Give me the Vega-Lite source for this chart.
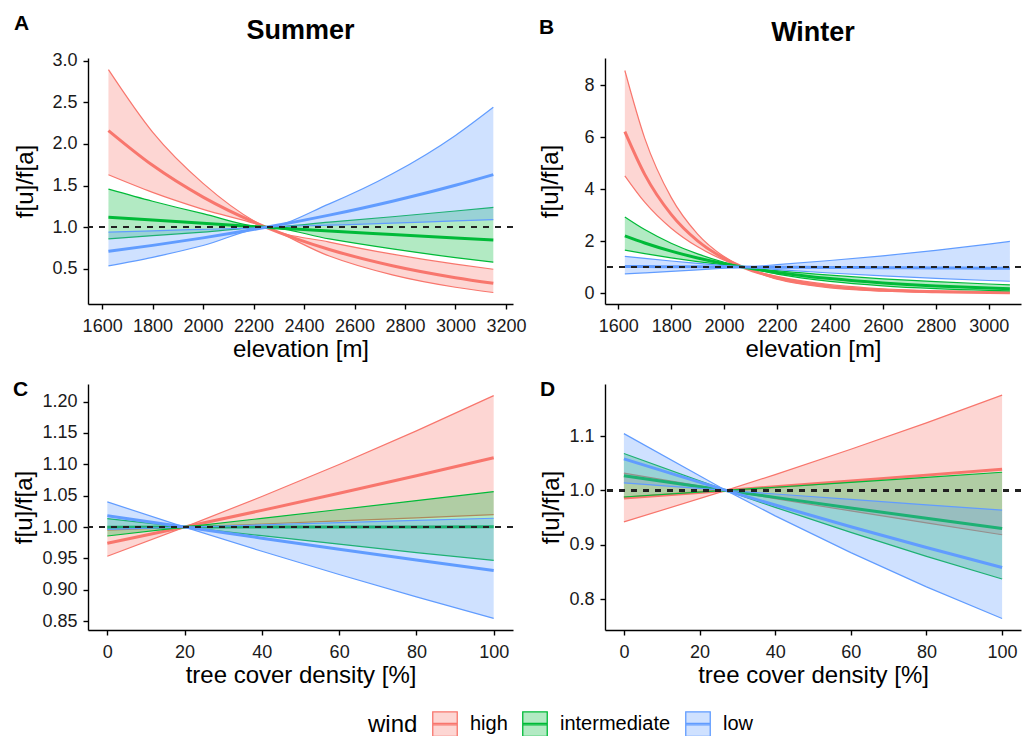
{
"$schema":"https://vega.github.io/schema/vega-lite/v6.json",
"padding":{"left":12,"top":12,"right":0,"bottom":0},
"config":{
"font":"Liberation Sans",
"view":{"stroke":null},
"axis":{"grid":false,"domainColor":"black","domainWidth":1.4,"tickColor":"black","tickWidth":1.4,"tickSize":5,"tickCount":20,"labelFontSize":18,"labelColor":"#1a1a1a","labelPadding":6,"labelOverlap":false,"titleFontSize":24,"titleFontWeight":"normal","titleColor":"black","labelFont":"Liberation Sans","titleFont":"Liberation Sans"},
"axisX":{"titlePadding":2,"labelPadding":8},
"legend":{"titleOrient":"left","titleFontSize":24,"titleFontWeight":"normal","titleColor":"black","labelFontSize":20,"labelColor":"black","symbolType":"M-1,-1H1V1H-1Z M-1,-0.06H1V0.06H-1Z","symbolSize":600,"symbolStrokeWidth":1.3,"labelOffset":12,"columnPadding":12,"titlePadding":14,"labelFont":"Liberation Sans","titleFont":"Liberation Sans"},
"title":{"font":"Liberation Sans","color":"black"}
},
"datasets":{
"A":[
{"wind":"high","x":1625,"lo":1.63,"mid":2.16,"hi":2.89},
{"wind":"high","x":1800,"lo":1.419,"mid":1.743,"hi":2.141},
{"wind":"high","x":2000,"lo":1.215,"mid":1.362,"hi":1.527},
{"wind":"high","x":2250,"lo":1,"mid":1,"hi":1},
{"wind":"high","x":2500,"lo":0.655,"mid":0.734,"hi":0.823},
{"wind":"high","x":2750,"lo":0.429,"mid":0.539,"hi":0.678},
{"wind":"high","x":3000,"lo":0.281,"mid":0.396,"hi":0.558},
{"wind":"high","x":3150,"lo":0.218,"mid":0.329,"hi":0.497},
{"wind":"intermediate","x":1625,"lo":0.862,"mid":1.121,"hi":1.458},
{"wind":"intermediate","x":1800,"lo":0.899,"mid":1.086,"hi":1.312},
{"wind":"intermediate","x":2000,"lo":0.942,"mid":1.047,"hi":1.163},
{"wind":"intermediate","x":2250,"lo":1,"mid":1,"hi":1},
{"wind":"intermediate","x":2500,"lo":0.86,"mid":0.955,"hi":1.061},
{"wind":"intermediate","x":2750,"lo":0.74,"mid":0.913,"hi":1.126},
{"wind":"intermediate","x":3000,"lo":0.636,"mid":0.872,"hi":1.195},
{"wind":"intermediate","x":3150,"lo":0.581,"mid":0.848,"hi":1.238},
{"wind":"low","x":1625,"lo":0.538,"mid":0.712,"hi":0.941},
{"wind":"low","x":1800,"lo":0.64,"mid":0.783,"hi":0.957},
{"wind":"low","x":2000,"lo":0.781,"mid":0.873,"hi":0.976},
{"wind":"low","x":2250,"lo":1,"mid":1,"hi":1},
{"wind":"low","x":2500,"lo":1.025,"mid":1.146,"hi":1.281},
{"wind":"low","x":2750,"lo":1.05,"mid":1.313,"hi":1.641},
{"wind":"low","x":3000,"lo":1.076,"mid":1.504,"hi":2.102},
{"wind":"low","x":3150,"lo":1.091,"mid":1.632,"hi":2.44}
],
"B":[
{"wind":"high","x":1625,"lo":4.51,"mid":6.21,"hi":8.56},
{"wind":"high","x":1700,"lo":3.497,"mid":4.566,"hi":5.96},
{"wind":"high","x":1800,"lo":2.494,"mid":3.028,"hi":3.68},
{"wind":"high","x":1900,"lo":1.778,"mid":2.009,"hi":2.27},
{"wind":"high","x":2000,"lo":1.267,"mid":1.333,"hi":1.402},
{"wind":"high","x":2070,"lo":1,"mid":1,"hi":1},
{"wind":"high","x":2200,"lo":0.534,"mid":0.587,"hi":0.644},
{"wind":"high","x":2400,"lo":0.2035,"mid":0.258,"hi":0.327},
{"wind":"high","x":2600,"lo":0.0776,"mid":0.1136,"hi":0.166},
{"wind":"high","x":2800,"lo":0.0296,"mid":0.05,"hi":0.0846},
{"wind":"high","x":3000,"lo":0.0113,"mid":0.022,"hi":0.043},
{"wind":"high","x":3080,"lo":0.0077,"mid":0.0158,"hi":0.0328},
{"wind":"intermediate","x":1625,"lo":1.655,"mid":2.2,"hi":2.925},
{"wind":"intermediate","x":1700,"lo":1.52,"mid":1.926,"hi":2.441},
{"wind":"intermediate","x":1800,"lo":1.357,"mid":1.613,"hi":1.918},
{"wind":"intermediate","x":1900,"lo":1.212,"mid":1.352,"hi":1.507},
{"wind":"intermediate","x":2000,"lo":1.082,"mid":1.132,"hi":1.184},
{"wind":"intermediate","x":2070,"lo":1,"mid":1,"hi":1},
{"wind":"intermediate","x":2200,"lo":0.731,"mid":0.794,"hi":0.863},
{"wind":"intermediate","x":2400,"lo":0.451,"mid":0.557,"hi":0.688},
{"wind":"intermediate","x":2600,"lo":0.2785,"mid":0.391,"hi":0.549},
{"wind":"intermediate","x":2800,"lo":0.172,"mid":0.274,"hi":0.438},
{"wind":"intermediate","x":3000,"lo":0.106,"mid":0.192,"hi":0.349},
{"wind":"intermediate","x":3080,"lo":0.0875,"mid":0.167,"hi":0.319},
{"wind":"low","x":1625,"lo":0.739,"mid":1.022,"hi":1.415},
{"wind":"low","x":1700,"lo":0.778,"mid":1.019,"hi":1.335},
{"wind":"low","x":1800,"lo":0.832,"mid":1.014,"hi":1.234},
{"wind":"low","x":1900,"lo":0.891,"mid":1.009,"hi":1.142},
{"wind":"low","x":2000,"lo":0.954,"mid":1.0035,"hi":1.056},
{"wind":"low","x":2070,"lo":1,"mid":1,"hi":1},
{"wind":"low","x":2200,"lo":0.904,"mid":0.9935,"hi":1.092},
{"wind":"low","x":2400,"lo":0.773,"mid":0.9836,"hi":1.252},
{"wind":"low","x":2600,"lo":0.661,"mid":0.974,"hi":1.434},
{"wind":"low","x":2800,"lo":0.566,"mid":0.964,"hi":1.643},
{"wind":"low","x":3000,"lo":0.484,"mid":0.955,"hi":1.882},
{"wind":"low","x":3080,"lo":0.455,"mid":0.951,"hi":1.987}
],
"C":[
{"wind":"high","x":0,"lo":0.9536,"mid":0.9741,"hi":0.9951},
{"wind":"high","x":20,"lo":1,"mid":1,"hi":1},
{"wind":"high","x":40,"lo":1.0049,"mid":1.0266,"hi":1.0487},
{"wind":"high","x":60,"lo":1.0098,"mid":1.0538,"hi":1.0998},
{"wind":"high","x":80,"lo":1.0148,"mid":1.0818,"hi":1.1533},
{"wind":"high","x":100,"lo":1.0198,"mid":1.1106,"hi":1.2095},
{"wind":"intermediate","x":0,"lo":0.9858,"mid":0.9999,"hi":1.0135},
{"wind":"intermediate","x":20,"lo":1,"mid":1,"hi":1},
{"wind":"intermediate","x":40,"lo":0.9863,"mid":1.0001,"hi":1.0139},
{"wind":"intermediate","x":60,"lo":0.9728,"mid":1.0002,"hi":1.028},
{"wind":"intermediate","x":80,"lo":0.9594,"mid":1.0003,"hi":1.0423},
{"wind":"intermediate","x":100,"lo":0.9468,"mid":1.0004,"hi":1.0565},
{"wind":"low","x":0,"lo":0.9965,"mid":1.0181,"hi":1.0401},
{"wind":"low","x":20,"lo":1,"mid":1,"hi":1},
{"wind":"low","x":40,"lo":0.9615,"mid":0.9823,"hi":1.0035},
{"wind":"low","x":60,"lo":0.9244,"mid":0.9648,"hi":1.007},
{"wind":"low","x":80,"lo":0.8888,"mid":0.9477,"hi":1.0106},
{"wind":"low","x":100,"lo":0.8545,"mid":0.9309,"hi":1.0141}
],
"D":[
{"wind":"high","x":0,"lo":0.942,"mid":0.9859,"hi":1.032},
{"wind":"high","x":27,"lo":1,"mid":1,"hi":1},
{"wind":"high","x":40,"lo":0.985,"mid":1.0068,"hi":1.0292},
{"wind":"high","x":60,"lo":0.9622,"mid":1.0174,"hi":1.0758},
{"wind":"high","x":80,"lo":0.9401,"mid":1.0282,"hi":1.1245},
{"wind":"high","x":100,"lo":0.9184,"mid":1.039,"hi":1.1754},
{"wind":"intermediate","x":0,"lo":0.9879,"mid":1.0272,"hi":1.0681},
{"wind":"intermediate","x":27,"lo":1,"mid":1,"hi":1},
{"wind":"intermediate","x":40,"lo":0.9688,"mid":0.9872,"hi":1.0059},
{"wind":"intermediate","x":60,"lo":0.9227,"mid":0.9677,"hi":1.015},
{"wind":"intermediate","x":80,"lo":0.8787,"mid":0.9487,"hi":1.0242},
{"wind":"intermediate","x":100,"lo":0.8369,"mid":0.93,"hi":1.0335},
{"wind":"low","x":0,"lo":1.0138,"mid":1.0582,"hi":1.1046},
{"wind":"low","x":27,"lo":1,"mid":1,"hi":1},
{"wind":"low","x":40,"lo":0.9532,"mid":0.9731,"hi":0.9934},
{"wind":"low","x":60,"lo":0.8855,"mid":0.9332,"hi":0.9834},
{"wind":"low","x":80,"lo":0.8225,"mid":0.8949,"hi":0.9735},
{"wind":"low","x":100,"lo":0.7641,"mid":0.8581,"hi":0.9637}
]
},
"columns":2,
"align":"each",
"spacing":{"row":18,"column":12},
"concat":[
{"title":{"text":"A","fontSize":21,"fontWeight":"bold","anchor":"start","frame":"bounds","dy":21,"color":"black"},
 "vconcat":[
{"data":{"name":"A"},"width":425,"height":246,
 "title":{"text":"Summer","fontSize":27,"fontWeight":"bold","anchor":"middle","frame":"group","offset":7,"color":"black"},
 "layer":[
 {"transform":[{"filter":"datum.wind === 'high'"}],
  "encoding":{"x":{"field":"x","type":"quantitative","scale":{"domain":[1544,3228],"nice":false,"zero":false},"axis":{"title":"elevation [m]","values":[1600,1800,2000,2200,2400,2600,2800,3000,3200],"format":"d"}}},
  "layer":[
  {"mark":{"type":"area","interpolate":"monotone"},"encoding":{"y":{"field":"lo","type":"quantitative","scale":{"domain":[0.08,3.03],"nice":false,"zero":false},"axis":{"title":"f[u]/f[a]","values":[0.5,1,1.5,2,2.5,3],"format":".1f","titlePadding":14}},"y2":{"field":"hi"},"fill":{"field":"wind","type":"nominal","scale":{"domain":["high","intermediate","low"],"range":["rgba(248,118,109,0.3)","rgba(0,186,56,0.3)","rgba(97,156,255,0.3)"]},"legend":{"title":"wind","orient":"none","legendX":280,"legendY":653,"direction":"horizontal"}}}},
  {"transform":[{"fold":["lo","hi"],"as":["bound","val"]}],"mark":{"type":"line","strokeWidth":1.2,"interpolate":"monotone"},"encoding":{"y":{"field":"val","type":"quantitative","scale":{"domain":[0.08,3.03],"nice":false,"zero":false},"axis":{"title":"f[u]/f[a]","values":[0.5,1,1.5,2,2.5,3],"format":".1f","titlePadding":14}},"detail":{"field":"bound","type":"nominal"},"stroke":{"field":"wind","type":"nominal","scale":{"domain":["high","intermediate","low"],"range":["#F8766D","#00BA38","#619CFF"]},"legend":{"title":"wind","orient":"none","legendX":280,"legendY":653,"direction":"horizontal"}}}},
  {"mark":{"type":"line","strokeWidth":3,"interpolate":"monotone"},"encoding":{"y":{"field":"mid","type":"quantitative","scale":{"domain":[0.08,3.03],"nice":false,"zero":false},"axis":{"title":"f[u]/f[a]","values":[0.5,1,1.5,2,2.5,3],"format":".1f","titlePadding":14}},"stroke":{"field":"wind","type":"nominal","scale":{"domain":["high","intermediate","low"],"range":["#F8766D","#00BA38","#619CFF"]},"legend":{"title":"wind","orient":"none","legendX":280,"legendY":653,"direction":"horizontal"}}}}
  ]},
 {"transform":[{"filter":"datum.wind === 'intermediate'"}],
  "encoding":{"x":{"field":"x","type":"quantitative","scale":{"domain":[1544,3228],"nice":false,"zero":false},"axis":{"title":"elevation [m]","values":[1600,1800,2000,2200,2400,2600,2800,3000,3200],"format":"d"}}},
  "layer":[
  {"mark":{"type":"area","interpolate":"monotone"},"encoding":{"y":{"field":"lo","type":"quantitative","scale":{"domain":[0.08,3.03],"nice":false,"zero":false},"axis":{"title":"f[u]/f[a]","values":[0.5,1,1.5,2,2.5,3],"format":".1f","titlePadding":14}},"y2":{"field":"hi"},"fill":{"field":"wind","type":"nominal","scale":{"domain":["high","intermediate","low"],"range":["rgba(248,118,109,0.3)","rgba(0,186,56,0.3)","rgba(97,156,255,0.3)"]},"legend":{"title":"wind","orient":"none","legendX":280,"legendY":653,"direction":"horizontal"}}}},
  {"transform":[{"fold":["lo","hi"],"as":["bound","val"]}],"mark":{"type":"line","strokeWidth":1.2,"interpolate":"monotone"},"encoding":{"y":{"field":"val","type":"quantitative","scale":{"domain":[0.08,3.03],"nice":false,"zero":false},"axis":{"title":"f[u]/f[a]","values":[0.5,1,1.5,2,2.5,3],"format":".1f","titlePadding":14}},"detail":{"field":"bound","type":"nominal"},"stroke":{"field":"wind","type":"nominal","scale":{"domain":["high","intermediate","low"],"range":["#F8766D","#00BA38","#619CFF"]},"legend":{"title":"wind","orient":"none","legendX":280,"legendY":653,"direction":"horizontal"}}}},
  {"mark":{"type":"line","strokeWidth":3,"interpolate":"monotone"},"encoding":{"y":{"field":"mid","type":"quantitative","scale":{"domain":[0.08,3.03],"nice":false,"zero":false},"axis":{"title":"f[u]/f[a]","values":[0.5,1,1.5,2,2.5,3],"format":".1f","titlePadding":14}},"stroke":{"field":"wind","type":"nominal","scale":{"domain":["high","intermediate","low"],"range":["#F8766D","#00BA38","#619CFF"]},"legend":{"title":"wind","orient":"none","legendX":280,"legendY":653,"direction":"horizontal"}}}}
  ]},
 {"transform":[{"filter":"datum.wind === 'low'"}],
  "encoding":{"x":{"field":"x","type":"quantitative","scale":{"domain":[1544,3228],"nice":false,"zero":false},"axis":{"title":"elevation [m]","values":[1600,1800,2000,2200,2400,2600,2800,3000,3200],"format":"d"}}},
  "layer":[
  {"mark":{"type":"area","interpolate":"monotone"},"encoding":{"y":{"field":"lo","type":"quantitative","scale":{"domain":[0.08,3.03],"nice":false,"zero":false},"axis":{"title":"f[u]/f[a]","values":[0.5,1,1.5,2,2.5,3],"format":".1f","titlePadding":14}},"y2":{"field":"hi"},"fill":{"field":"wind","type":"nominal","scale":{"domain":["high","intermediate","low"],"range":["rgba(248,118,109,0.3)","rgba(0,186,56,0.3)","rgba(97,156,255,0.3)"]},"legend":{"title":"wind","orient":"none","legendX":280,"legendY":653,"direction":"horizontal"}}}},
  {"transform":[{"fold":["lo","hi"],"as":["bound","val"]}],"mark":{"type":"line","strokeWidth":1.2,"interpolate":"monotone"},"encoding":{"y":{"field":"val","type":"quantitative","scale":{"domain":[0.08,3.03],"nice":false,"zero":false},"axis":{"title":"f[u]/f[a]","values":[0.5,1,1.5,2,2.5,3],"format":".1f","titlePadding":14}},"detail":{"field":"bound","type":"nominal"},"stroke":{"field":"wind","type":"nominal","scale":{"domain":["high","intermediate","low"],"range":["#F8766D","#00BA38","#619CFF"]},"legend":{"title":"wind","orient":"none","legendX":280,"legendY":653,"direction":"horizontal"}}}},
  {"mark":{"type":"line","strokeWidth":3,"interpolate":"monotone"},"encoding":{"y":{"field":"mid","type":"quantitative","scale":{"domain":[0.08,3.03],"nice":false,"zero":false},"axis":{"title":"f[u]/f[a]","values":[0.5,1,1.5,2,2.5,3],"format":".1f","titlePadding":14}},"stroke":{"field":"wind","type":"nominal","scale":{"domain":["high","intermediate","low"],"range":["#F8766D","#00BA38","#619CFF"]},"legend":{"title":"wind","orient":"none","legendX":280,"legendY":653,"direction":"horizontal"}}}}
  ]},
 {"mark":{"type":"rule","strokeDash":[6,6],"color":"#222222","strokeWidth":1.4},"encoding":{"y":{"datum":1,"type":"quantitative","scale":{"domain":[0.08,3.03],"nice":false,"zero":false}}}}
 ]}
 ]},
{"title":{"text":"B","fontSize":21,"fontWeight":"bold","anchor":"start","frame":"bounds","dy":23,"color":"black"},
 "vconcat":[
{"data":{"name":"B"},"width":416,"height":246,
 "title":{"text":"Winter","fontSize":27,"fontWeight":"bold","anchor":"middle","frame":"group","offset":11,"color":"black"},
 "layer":[
 {"transform":[{"filter":"datum.wind === 'high'"}],
  "encoding":{"x":{"field":"x","type":"quantitative","scale":{"domain":[1550,3122],"nice":false,"zero":false},"axis":{"title":"elevation [m]","values":[1600,1800,2000,2200,2400,2600,2800,3000],"format":"d"}}},
  "layer":[
  {"mark":{"type":"area","interpolate":"monotone"},"encoding":{"y":{"field":"lo","type":"quantitative","scale":{"domain":[-0.42,9.04],"nice":false,"zero":false},"axis":{"title":"f[u]/f[a]","values":[0,2,4,6,8],"format":"d","titlePadding":21}},"y2":{"field":"hi"},"fill":{"field":"wind","type":"nominal","scale":{"domain":["high","intermediate","low"],"range":["rgba(248,118,109,0.3)","rgba(0,186,56,0.3)","rgba(97,156,255,0.3)"]},"legend":{"title":"wind","orient":"none","legendX":280,"legendY":653,"direction":"horizontal"}}}},
  {"transform":[{"fold":["lo","hi"],"as":["bound","val"]}],"mark":{"type":"line","strokeWidth":1.2,"interpolate":"monotone"},"encoding":{"y":{"field":"val","type":"quantitative","scale":{"domain":[-0.42,9.04],"nice":false,"zero":false},"axis":{"title":"f[u]/f[a]","values":[0,2,4,6,8],"format":"d","titlePadding":21}},"detail":{"field":"bound","type":"nominal"},"stroke":{"field":"wind","type":"nominal","scale":{"domain":["high","intermediate","low"],"range":["#F8766D","#00BA38","#619CFF"]},"legend":{"title":"wind","orient":"none","legendX":280,"legendY":653,"direction":"horizontal"}}}},
  {"mark":{"type":"line","strokeWidth":3,"interpolate":"monotone"},"encoding":{"y":{"field":"mid","type":"quantitative","scale":{"domain":[-0.42,9.04],"nice":false,"zero":false},"axis":{"title":"f[u]/f[a]","values":[0,2,4,6,8],"format":"d","titlePadding":21}},"stroke":{"field":"wind","type":"nominal","scale":{"domain":["high","intermediate","low"],"range":["#F8766D","#00BA38","#619CFF"]},"legend":{"title":"wind","orient":"none","legendX":280,"legendY":653,"direction":"horizontal"}}}}
  ]},
 {"transform":[{"filter":"datum.wind === 'intermediate'"}],
  "encoding":{"x":{"field":"x","type":"quantitative","scale":{"domain":[1550,3122],"nice":false,"zero":false},"axis":{"title":"elevation [m]","values":[1600,1800,2000,2200,2400,2600,2800,3000],"format":"d"}}},
  "layer":[
  {"mark":{"type":"area","interpolate":"monotone"},"encoding":{"y":{"field":"lo","type":"quantitative","scale":{"domain":[-0.42,9.04],"nice":false,"zero":false},"axis":{"title":"f[u]/f[a]","values":[0,2,4,6,8],"format":"d","titlePadding":21}},"y2":{"field":"hi"},"fill":{"field":"wind","type":"nominal","scale":{"domain":["high","intermediate","low"],"range":["rgba(248,118,109,0.3)","rgba(0,186,56,0.3)","rgba(97,156,255,0.3)"]},"legend":{"title":"wind","orient":"none","legendX":280,"legendY":653,"direction":"horizontal"}}}},
  {"transform":[{"fold":["lo","hi"],"as":["bound","val"]}],"mark":{"type":"line","strokeWidth":1.2,"interpolate":"monotone"},"encoding":{"y":{"field":"val","type":"quantitative","scale":{"domain":[-0.42,9.04],"nice":false,"zero":false},"axis":{"title":"f[u]/f[a]","values":[0,2,4,6,8],"format":"d","titlePadding":21}},"detail":{"field":"bound","type":"nominal"},"stroke":{"field":"wind","type":"nominal","scale":{"domain":["high","intermediate","low"],"range":["#F8766D","#00BA38","#619CFF"]},"legend":{"title":"wind","orient":"none","legendX":280,"legendY":653,"direction":"horizontal"}}}},
  {"mark":{"type":"line","strokeWidth":3,"interpolate":"monotone"},"encoding":{"y":{"field":"mid","type":"quantitative","scale":{"domain":[-0.42,9.04],"nice":false,"zero":false},"axis":{"title":"f[u]/f[a]","values":[0,2,4,6,8],"format":"d","titlePadding":21}},"stroke":{"field":"wind","type":"nominal","scale":{"domain":["high","intermediate","low"],"range":["#F8766D","#00BA38","#619CFF"]},"legend":{"title":"wind","orient":"none","legendX":280,"legendY":653,"direction":"horizontal"}}}}
  ]},
 {"transform":[{"filter":"datum.wind === 'low'"}],
  "encoding":{"x":{"field":"x","type":"quantitative","scale":{"domain":[1550,3122],"nice":false,"zero":false},"axis":{"title":"elevation [m]","values":[1600,1800,2000,2200,2400,2600,2800,3000],"format":"d"}}},
  "layer":[
  {"mark":{"type":"area","interpolate":"monotone"},"encoding":{"y":{"field":"lo","type":"quantitative","scale":{"domain":[-0.42,9.04],"nice":false,"zero":false},"axis":{"title":"f[u]/f[a]","values":[0,2,4,6,8],"format":"d","titlePadding":21}},"y2":{"field":"hi"},"fill":{"field":"wind","type":"nominal","scale":{"domain":["high","intermediate","low"],"range":["rgba(248,118,109,0.3)","rgba(0,186,56,0.3)","rgba(97,156,255,0.3)"]},"legend":{"title":"wind","orient":"none","legendX":280,"legendY":653,"direction":"horizontal"}}}},
  {"transform":[{"fold":["lo","hi"],"as":["bound","val"]}],"mark":{"type":"line","strokeWidth":1.2,"interpolate":"monotone"},"encoding":{"y":{"field":"val","type":"quantitative","scale":{"domain":[-0.42,9.04],"nice":false,"zero":false},"axis":{"title":"f[u]/f[a]","values":[0,2,4,6,8],"format":"d","titlePadding":21}},"detail":{"field":"bound","type":"nominal"},"stroke":{"field":"wind","type":"nominal","scale":{"domain":["high","intermediate","low"],"range":["#F8766D","#00BA38","#619CFF"]},"legend":{"title":"wind","orient":"none","legendX":280,"legendY":653,"direction":"horizontal"}}}},
  {"mark":{"type":"line","strokeWidth":3,"interpolate":"monotone"},"encoding":{"y":{"field":"mid","type":"quantitative","scale":{"domain":[-0.42,9.04],"nice":false,"zero":false},"axis":{"title":"f[u]/f[a]","values":[0,2,4,6,8],"format":"d","titlePadding":21}},"stroke":{"field":"wind","type":"nominal","scale":{"domain":["high","intermediate","low"],"range":["#F8766D","#00BA38","#619CFF"]},"legend":{"title":"wind","orient":"none","legendX":280,"legendY":653,"direction":"horizontal"}}}}
  ]},
 {"mark":{"type":"rule","strokeDash":[6,6],"color":"#222222","strokeWidth":1.4},"encoding":{"y":{"datum":1,"type":"quantitative","scale":{"domain":[-0.42,9.04],"nice":false,"zero":false}}}}
 ]}
 ]},
{"data":{"name":"C"},"width":425,"height":246,
 "title":{"text":"C","fontSize":21,"fontWeight":"bold","anchor":"start","frame":"bounds","offset":0,"dy":16,"color":"black"},
 "layer":[
 {"transform":[{"filter":"datum.wind === 'high'"}],
  "encoding":{"x":{"field":"x","type":"quantitative","scale":{"domain":[-5,105],"nice":false,"zero":false},"axis":{"title":"tree cover density [%]","values":[0,20,40,60,80,100],"format":"d"}}},
  "layer":[
  {"mark":{"type":"area"},"encoding":{"y":{"field":"lo","type":"quantitative","scale":{"domain":[0.836,1.228],"nice":false,"zero":false},"axis":{"title":"f[u]/f[a]","values":[0.85,0.9,0.95,1,1.05,1.1,1.15,1.2],"format":".2f","titlePadding":5}},"y2":{"field":"hi"},"fill":{"field":"wind","type":"nominal","scale":{"domain":["high","intermediate","low"],"range":["rgba(248,118,109,0.3)","rgba(0,186,56,0.3)","rgba(97,156,255,0.3)"]},"legend":{"title":"wind","orient":"none","legendX":280,"legendY":653,"direction":"horizontal"}}}},
  {"transform":[{"fold":["lo","hi"],"as":["bound","val"]}],"mark":{"type":"line","strokeWidth":1.2},"encoding":{"y":{"field":"val","type":"quantitative","scale":{"domain":[0.836,1.228],"nice":false,"zero":false},"axis":{"title":"f[u]/f[a]","values":[0.85,0.9,0.95,1,1.05,1.1,1.15,1.2],"format":".2f","titlePadding":5}},"detail":{"field":"bound","type":"nominal"},"stroke":{"field":"wind","type":"nominal","scale":{"domain":["high","intermediate","low"],"range":["#F8766D","#00BA38","#619CFF"]},"legend":{"title":"wind","orient":"none","legendX":280,"legendY":653,"direction":"horizontal"}}}},
  {"mark":{"type":"line","strokeWidth":3},"encoding":{"y":{"field":"mid","type":"quantitative","scale":{"domain":[0.836,1.228],"nice":false,"zero":false},"axis":{"title":"f[u]/f[a]","values":[0.85,0.9,0.95,1,1.05,1.1,1.15,1.2],"format":".2f","titlePadding":5}},"stroke":{"field":"wind","type":"nominal","scale":{"domain":["high","intermediate","low"],"range":["#F8766D","#00BA38","#619CFF"]},"legend":{"title":"wind","orient":"none","legendX":280,"legendY":653,"direction":"horizontal"}}}}
  ]},
 {"transform":[{"filter":"datum.wind === 'intermediate'"}],
  "encoding":{"x":{"field":"x","type":"quantitative","scale":{"domain":[-5,105],"nice":false,"zero":false},"axis":{"title":"tree cover density [%]","values":[0,20,40,60,80,100],"format":"d"}}},
  "layer":[
  {"mark":{"type":"area"},"encoding":{"y":{"field":"lo","type":"quantitative","scale":{"domain":[0.836,1.228],"nice":false,"zero":false},"axis":{"title":"f[u]/f[a]","values":[0.85,0.9,0.95,1,1.05,1.1,1.15,1.2],"format":".2f","titlePadding":5}},"y2":{"field":"hi"},"fill":{"field":"wind","type":"nominal","scale":{"domain":["high","intermediate","low"],"range":["rgba(248,118,109,0.3)","rgba(0,186,56,0.3)","rgba(97,156,255,0.3)"]},"legend":{"title":"wind","orient":"none","legendX":280,"legendY":653,"direction":"horizontal"}}}},
  {"transform":[{"fold":["lo","hi"],"as":["bound","val"]}],"mark":{"type":"line","strokeWidth":1.2},"encoding":{"y":{"field":"val","type":"quantitative","scale":{"domain":[0.836,1.228],"nice":false,"zero":false},"axis":{"title":"f[u]/f[a]","values":[0.85,0.9,0.95,1,1.05,1.1,1.15,1.2],"format":".2f","titlePadding":5}},"detail":{"field":"bound","type":"nominal"},"stroke":{"field":"wind","type":"nominal","scale":{"domain":["high","intermediate","low"],"range":["#F8766D","#00BA38","#619CFF"]},"legend":{"title":"wind","orient":"none","legendX":280,"legendY":653,"direction":"horizontal"}}}},
  {"mark":{"type":"line","strokeWidth":3},"encoding":{"y":{"field":"mid","type":"quantitative","scale":{"domain":[0.836,1.228],"nice":false,"zero":false},"axis":{"title":"f[u]/f[a]","values":[0.85,0.9,0.95,1,1.05,1.1,1.15,1.2],"format":".2f","titlePadding":5}},"stroke":{"field":"wind","type":"nominal","scale":{"domain":["high","intermediate","low"],"range":["#F8766D","#00BA38","#619CFF"]},"legend":{"title":"wind","orient":"none","legendX":280,"legendY":653,"direction":"horizontal"}}}}
  ]},
 {"transform":[{"filter":"datum.wind === 'low'"}],
  "encoding":{"x":{"field":"x","type":"quantitative","scale":{"domain":[-5,105],"nice":false,"zero":false},"axis":{"title":"tree cover density [%]","values":[0,20,40,60,80,100],"format":"d"}}},
  "layer":[
  {"mark":{"type":"area"},"encoding":{"y":{"field":"lo","type":"quantitative","scale":{"domain":[0.836,1.228],"nice":false,"zero":false},"axis":{"title":"f[u]/f[a]","values":[0.85,0.9,0.95,1,1.05,1.1,1.15,1.2],"format":".2f","titlePadding":5}},"y2":{"field":"hi"},"fill":{"field":"wind","type":"nominal","scale":{"domain":["high","intermediate","low"],"range":["rgba(248,118,109,0.3)","rgba(0,186,56,0.3)","rgba(97,156,255,0.3)"]},"legend":{"title":"wind","orient":"none","legendX":280,"legendY":653,"direction":"horizontal"}}}},
  {"transform":[{"fold":["lo","hi"],"as":["bound","val"]}],"mark":{"type":"line","strokeWidth":1.2},"encoding":{"y":{"field":"val","type":"quantitative","scale":{"domain":[0.836,1.228],"nice":false,"zero":false},"axis":{"title":"f[u]/f[a]","values":[0.85,0.9,0.95,1,1.05,1.1,1.15,1.2],"format":".2f","titlePadding":5}},"detail":{"field":"bound","type":"nominal"},"stroke":{"field":"wind","type":"nominal","scale":{"domain":["high","intermediate","low"],"range":["#F8766D","#00BA38","#619CFF"]},"legend":{"title":"wind","orient":"none","legendX":280,"legendY":653,"direction":"horizontal"}}}},
  {"mark":{"type":"line","strokeWidth":3},"encoding":{"y":{"field":"mid","type":"quantitative","scale":{"domain":[0.836,1.228],"nice":false,"zero":false},"axis":{"title":"f[u]/f[a]","values":[0.85,0.9,0.95,1,1.05,1.1,1.15,1.2],"format":".2f","titlePadding":5}},"stroke":{"field":"wind","type":"nominal","scale":{"domain":["high","intermediate","low"],"range":["#F8766D","#00BA38","#619CFF"]},"legend":{"title":"wind","orient":"none","legendX":280,"legendY":653,"direction":"horizontal"}}}}
  ]},
 {"mark":{"type":"rule","strokeDash":[6,6],"color":"#222222","strokeWidth":1.4},"encoding":{"y":{"datum":1,"type":"quantitative","scale":{"domain":[0.836,1.228],"nice":false,"zero":false}}}}
 ]},
{"data":{"name":"D"},"width":416,"height":246,
 "title":{"text":"D","fontSize":21,"fontWeight":"bold","anchor":"start","frame":"bounds","offset":0,"dy":16,"color":"black"},
 "layer":[
 {"transform":[{"filter":"datum.wind === 'high'"}],
  "encoding":{"x":{"field":"x","type":"quantitative","scale":{"domain":[-5,105],"nice":false,"zero":false},"axis":{"title":"tree cover density [%]","values":[0,20,40,60,80,100],"format":"d"}}},
  "layer":[
  {"mark":{"type":"area"},"encoding":{"y":{"field":"lo","type":"quantitative","scale":{"domain":[0.743,1.196],"nice":false,"zero":false},"axis":{"title":"f[u]/f[a]","values":[0.8,0.9,1,1.1],"format":".1f","titlePadding":5}},"y2":{"field":"hi"},"fill":{"field":"wind","type":"nominal","scale":{"domain":["high","intermediate","low"],"range":["rgba(248,118,109,0.3)","rgba(0,186,56,0.3)","rgba(97,156,255,0.3)"]},"legend":{"title":"wind","orient":"none","legendX":280,"legendY":653,"direction":"horizontal"}}}},
  {"transform":[{"fold":["lo","hi"],"as":["bound","val"]}],"mark":{"type":"line","strokeWidth":1.2},"encoding":{"y":{"field":"val","type":"quantitative","scale":{"domain":[0.743,1.196],"nice":false,"zero":false},"axis":{"title":"f[u]/f[a]","values":[0.8,0.9,1,1.1],"format":".1f","titlePadding":5}},"detail":{"field":"bound","type":"nominal"},"stroke":{"field":"wind","type":"nominal","scale":{"domain":["high","intermediate","low"],"range":["#F8766D","#00BA38","#619CFF"]},"legend":{"title":"wind","orient":"none","legendX":280,"legendY":653,"direction":"horizontal"}}}},
  {"mark":{"type":"line","strokeWidth":3},"encoding":{"y":{"field":"mid","type":"quantitative","scale":{"domain":[0.743,1.196],"nice":false,"zero":false},"axis":{"title":"f[u]/f[a]","values":[0.8,0.9,1,1.1],"format":".1f","titlePadding":5}},"stroke":{"field":"wind","type":"nominal","scale":{"domain":["high","intermediate","low"],"range":["#F8766D","#00BA38","#619CFF"]},"legend":{"title":"wind","orient":"none","legendX":280,"legendY":653,"direction":"horizontal"}}}}
  ]},
 {"transform":[{"filter":"datum.wind === 'intermediate'"}],
  "encoding":{"x":{"field":"x","type":"quantitative","scale":{"domain":[-5,105],"nice":false,"zero":false},"axis":{"title":"tree cover density [%]","values":[0,20,40,60,80,100],"format":"d"}}},
  "layer":[
  {"mark":{"type":"area"},"encoding":{"y":{"field":"lo","type":"quantitative","scale":{"domain":[0.743,1.196],"nice":false,"zero":false},"axis":{"title":"f[u]/f[a]","values":[0.8,0.9,1,1.1],"format":".1f","titlePadding":5}},"y2":{"field":"hi"},"fill":{"field":"wind","type":"nominal","scale":{"domain":["high","intermediate","low"],"range":["rgba(248,118,109,0.3)","rgba(0,186,56,0.3)","rgba(97,156,255,0.3)"]},"legend":{"title":"wind","orient":"none","legendX":280,"legendY":653,"direction":"horizontal"}}}},
  {"transform":[{"fold":["lo","hi"],"as":["bound","val"]}],"mark":{"type":"line","strokeWidth":1.2},"encoding":{"y":{"field":"val","type":"quantitative","scale":{"domain":[0.743,1.196],"nice":false,"zero":false},"axis":{"title":"f[u]/f[a]","values":[0.8,0.9,1,1.1],"format":".1f","titlePadding":5}},"detail":{"field":"bound","type":"nominal"},"stroke":{"field":"wind","type":"nominal","scale":{"domain":["high","intermediate","low"],"range":["#F8766D","#00BA38","#619CFF"]},"legend":{"title":"wind","orient":"none","legendX":280,"legendY":653,"direction":"horizontal"}}}},
  {"mark":{"type":"line","strokeWidth":3},"encoding":{"y":{"field":"mid","type":"quantitative","scale":{"domain":[0.743,1.196],"nice":false,"zero":false},"axis":{"title":"f[u]/f[a]","values":[0.8,0.9,1,1.1],"format":".1f","titlePadding":5}},"stroke":{"field":"wind","type":"nominal","scale":{"domain":["high","intermediate","low"],"range":["#F8766D","#00BA38","#619CFF"]},"legend":{"title":"wind","orient":"none","legendX":280,"legendY":653,"direction":"horizontal"}}}}
  ]},
 {"transform":[{"filter":"datum.wind === 'low'"}],
  "encoding":{"x":{"field":"x","type":"quantitative","scale":{"domain":[-5,105],"nice":false,"zero":false},"axis":{"title":"tree cover density [%]","values":[0,20,40,60,80,100],"format":"d"}}},
  "layer":[
  {"mark":{"type":"area"},"encoding":{"y":{"field":"lo","type":"quantitative","scale":{"domain":[0.743,1.196],"nice":false,"zero":false},"axis":{"title":"f[u]/f[a]","values":[0.8,0.9,1,1.1],"format":".1f","titlePadding":5}},"y2":{"field":"hi"},"fill":{"field":"wind","type":"nominal","scale":{"domain":["high","intermediate","low"],"range":["rgba(248,118,109,0.3)","rgba(0,186,56,0.3)","rgba(97,156,255,0.3)"]},"legend":{"title":"wind","orient":"none","legendX":280,"legendY":653,"direction":"horizontal"}}}},
  {"transform":[{"fold":["lo","hi"],"as":["bound","val"]}],"mark":{"type":"line","strokeWidth":1.2},"encoding":{"y":{"field":"val","type":"quantitative","scale":{"domain":[0.743,1.196],"nice":false,"zero":false},"axis":{"title":"f[u]/f[a]","values":[0.8,0.9,1,1.1],"format":".1f","titlePadding":5}},"detail":{"field":"bound","type":"nominal"},"stroke":{"field":"wind","type":"nominal","scale":{"domain":["high","intermediate","low"],"range":["#F8766D","#00BA38","#619CFF"]},"legend":{"title":"wind","orient":"none","legendX":280,"legendY":653,"direction":"horizontal"}}}},
  {"mark":{"type":"line","strokeWidth":3},"encoding":{"y":{"field":"mid","type":"quantitative","scale":{"domain":[0.743,1.196],"nice":false,"zero":false},"axis":{"title":"f[u]/f[a]","values":[0.8,0.9,1,1.1],"format":".1f","titlePadding":5}},"stroke":{"field":"wind","type":"nominal","scale":{"domain":["high","intermediate","low"],"range":["#F8766D","#00BA38","#619CFF"]},"legend":{"title":"wind","orient":"none","legendX":280,"legendY":653,"direction":"horizontal"}}}}
  ]},
 {"mark":{"type":"rule","strokeDash":[6,6],"color":"#222222","strokeWidth":1.4},"encoding":{"y":{"datum":1,"type":"quantitative","scale":{"domain":[0.743,1.196],"nice":false,"zero":false}}}}
 ]}
]
}
